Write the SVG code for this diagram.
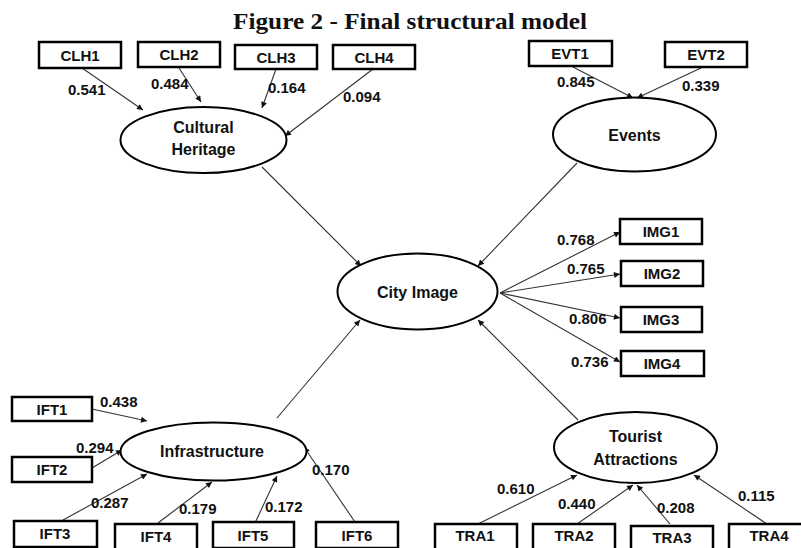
<svg xmlns="http://www.w3.org/2000/svg" width="801" height="548" viewBox="0 0 801 548">
<defs>
<marker id="arr" viewBox="0 0 10 10" refX="10" refY="5" markerWidth="7" markerHeight="6" markerUnits="userSpaceOnUse" orient="auto">
<path d="M0,0 L10,5 L0,10 z" fill="#111"/>
</marker>
<style>
.box{fill:#fff;stroke:#000;stroke-width:2.5}
.ell{fill:#fff;stroke:#000;stroke-width:2}
.bt{font-family:"Liberation Sans",Arial,sans-serif;font-weight:bold;font-size:15px;fill:#111;text-anchor:middle}
.et{font-family:"Liberation Sans",Arial,sans-serif;font-weight:bold;font-size:16px;fill:#111;text-anchor:middle}
.lb{font-family:"Liberation Sans",Arial,sans-serif;font-weight:bold;font-size:15px;fill:#111}
.c{stroke:#333;stroke-width:1.1;fill:none;marker-end:url(#arr)}
</style>
</defs>
<rect width="801" height="548" fill="#fff"/>
<text x="410" y="29" text-anchor="middle" font-family="Liberation Serif,serif" font-weight="bold" font-size="24" textLength="354" lengthAdjust="spacingAndGlyphs" fill="#111">Figure 2 - Final structural model</text>

<g id="connectors">
<line class="c" x1="82" y1="68" x2="143" y2="110"/>
<line class="c" x1="179" y1="68" x2="201" y2="102"/>
<line class="c" x1="276" y1="69" x2="262" y2="108"/>
<line class="c" x1="373" y1="69" x2="285" y2="136"/>
<line class="c" x1="573" y1="67" x2="633" y2="98"/>
<line class="c" x1="703" y1="67" x2="637" y2="98"/>
<line class="c" x1="262" y1="167" x2="361" y2="266"/>
<line class="c" x1="577" y1="163" x2="478" y2="266"/>
<line class="c" x1="500" y1="293" x2="620" y2="232"/>
<line class="c" x1="500" y1="293" x2="620" y2="274"/>
<line class="c" x1="500" y1="293" x2="620" y2="318"/>
<line class="c" x1="500" y1="293" x2="620" y2="362"/>
<line class="c" x1="277" y1="418" x2="360" y2="320"/>
<line class="c" x1="578" y1="420" x2="478" y2="320"/>
<line class="c" x1="92" y1="409" x2="147" y2="421"/>
<line class="c" x1="92" y1="468" x2="122" y2="450"/>
<line class="c" x1="63" y1="520" x2="147" y2="474"/>
<line class="c" x1="158" y1="523" x2="212" y2="482"/>
<line class="c" x1="255" y1="523" x2="277" y2="476"/>
<line class="c" x1="355" y1="522" x2="304" y2="447"/>
<line class="c" x1="478" y1="524" x2="577" y2="475"/>
<line class="c" x1="577" y1="524" x2="633" y2="485"/>
<line class="c" x1="670" y1="524" x2="637" y2="485"/>
<line class="c" x1="767" y1="524" x2="694" y2="475"/>
</g>

<g id="labels">
<text class="lb" x="68" y="95">0.541</text>
<text class="lb" x="151" y="89">0.484</text>
<text class="lb" x="268" y="93">0.164</text>
<text class="lb" x="343" y="102">0.094</text>
<text class="lb" x="557" y="87">0.845</text>
<text class="lb" x="682" y="91">0.339</text>
<text class="lb" x="557" y="245">0.768</text>
<text class="lb" x="567" y="274">0.765</text>
<text class="lb" x="569" y="324">0.806</text>
<text class="lb" x="571" y="367">0.736</text>
<text class="lb" x="100" y="407">0.438</text>
<text class="lb" x="76" y="453">0.294</text>
<text class="lb" x="91" y="508">0.287</text>
<text class="lb" x="179" y="514">0.179</text>
<text class="lb" x="265" y="512">0.172</text>
<text class="lb" x="312" y="475">0.170</text>
<text class="lb" x="497" y="494">0.610</text>
<text class="lb" x="558" y="509">0.440</text>
<text class="lb" x="657" y="513">0.208</text>
<text class="lb" x="738" y="501">0.115</text>
</g>

<g id="CLH1"><rect class="box" x="39" y="42" width="82" height="26"/><text class="bt" x="80" y="61">CLH1</text></g>
<g id="CLH2"><rect class="box" x="138" y="42" width="82" height="25"/><text class="bt" x="179" y="60">CLH2</text></g>
<g id="CLH3"><rect class="box" x="235" y="45" width="82" height="24"/><text class="bt" x="276" y="63">CLH3</text></g>
<g id="CLH4"><rect class="box" x="333" y="45" width="82" height="24"/><text class="bt" x="374" y="63">CLH4</text></g>
<g id="EVT1"><rect class="box" x="529" y="41" width="83" height="25"/><text class="bt" x="570" y="59">EVT1</text></g>
<g id="EVT2"><rect class="box" x="665" y="42" width="82" height="25"/><text class="bt" x="706" y="60">EVT2</text></g>

<g id="CulturalHeritage"><ellipse class="ell" cx="203.5" cy="140" rx="83" ry="33"/><text class="et" x="203.5" y="133">Cultural</text><text class="et" x="203.5" y="155">Heritage</text></g>
<g id="Events"><ellipse class="ell" cx="634.5" cy="134.5" rx="81.5" ry="37"/><text class="et" x="634.5" y="141">Events</text></g>
<g id="CityImage"><ellipse class="ell" cx="417.5" cy="291.5" rx="80" ry="38"/><text class="et" x="417.5" y="298">City Image</text></g>
<g id="Infrastructure"><ellipse class="ell" cx="213.5" cy="451.5" rx="93" ry="29"/><text class="et" x="212" y="457">Infrastructure</text></g>
<g id="TouristAttractions"><ellipse class="ell" cx="635.5" cy="447.5" rx="81.5" ry="35.5"/><text class="et" x="635.5" y="442">Tourist</text><text class="et" x="635.5" y="465">Attractions</text></g>

<g id="IMG1"><rect class="box" x="620" y="219" width="82" height="25"/><text class="bt" x="661" y="237">IMG1</text></g>
<g id="IMG2"><rect class="box" x="621" y="261" width="82" height="25"/><text class="bt" x="662" y="279">IMG2</text></g>
<g id="IMG3"><rect class="box" x="621" y="307" width="81" height="25"/><text class="bt" x="661" y="325">IMG3</text></g>
<g id="IMG4"><rect class="box" x="621" y="351" width="83" height="25"/><text class="bt" x="662" y="369">IMG4</text></g>

<g id="IFT1"><rect class="box" x="12" y="397" width="80" height="24"/><text class="bt" x="52" y="415">IFT1</text></g>
<g id="IFT2"><rect class="box" x="12" y="457" width="80" height="25"/><text class="bt" x="52" y="475">IFT2</text></g>
<g id="IFT3"><rect class="box" x="14" y="521" width="83" height="26"/><text class="bt" x="55" y="539">IFT3</text></g>
<g id="IFT4"><rect class="box" x="115" y="524" width="82" height="26"/><text class="bt" x="156" y="542">IFT4</text></g>
<g id="IFT5"><rect class="box" x="213" y="522" width="81" height="26"/><text class="bt" x="253" y="541">IFT5</text></g>
<g id="IFT6"><rect class="box" x="316" y="522" width="82" height="26"/><text class="bt" x="357" y="541">IFT6</text></g>

<g id="TRA1"><rect class="box" x="435" y="524" width="82" height="26"/><text class="bt" x="475" y="541">TRA1</text></g>
<g id="TRA2"><rect class="box" x="533" y="524" width="82" height="26"/><text class="bt" x="574" y="541">TRA2</text></g>
<g id="TRA3"><rect class="box" x="631" y="526" width="82" height="26"/><text class="bt" x="672" y="543">TRA3</text></g>
<g id="TRA4"><rect class="box" x="729" y="524" width="82" height="26"/><text class="bt" x="769" y="541">TRA4</text></g>
</svg>
